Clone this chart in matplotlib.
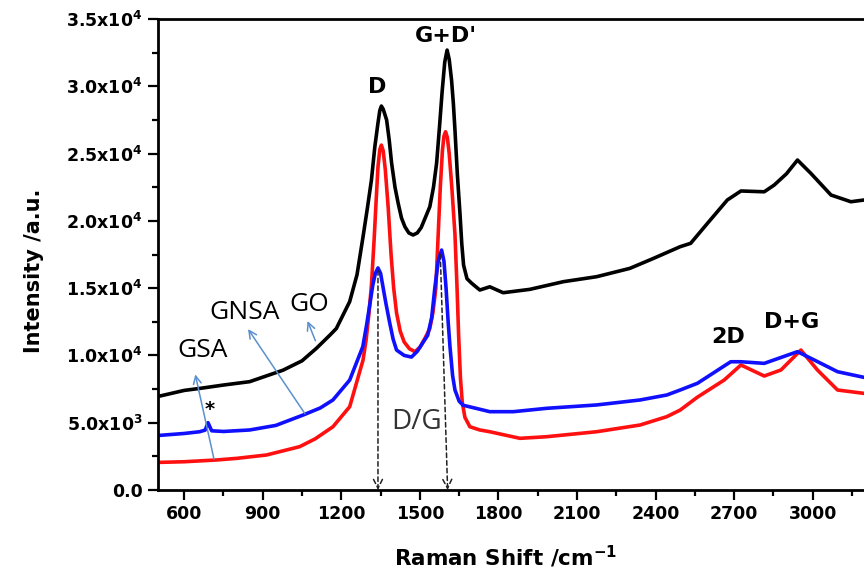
import matplotlib
matplotlib.use('Agg')
import matplotlib.pyplot as plt
from matplotlib.ticker import MultipleLocator, FixedLocator, FixedFormatter

plt.rcParams['font.family'] = 'DejaVu Sans'
plt.rcParams['mathtext.fontset'] = 'dejavusans'

# GO (black)
go_x = [500, 600, 660, 750, 850, 977, 1050, 1105, 1156, 1181, 1232, 1260, 1283, 1300, 1315, 1328,
        1340, 1347, 1353, 1360, 1373, 1383, 1392, 1405, 1417, 1430, 1443, 1458, 1474, 1490, 1505,
        1520, 1538, 1552, 1564, 1575, 1585, 1595, 1604, 1612, 1621, 1628, 1634, 1643, 1653, 1660,
        1667, 1680, 1698, 1729, 1767, 1818, 1920, 2048, 2175, 2302, 2392, 2494, 2534, 2598, 2674,
        2726, 2815, 2853, 2900, 2942, 2993, 3070, 3146, 3196]
go_y = [6950, 7400, 7550, 7800, 8050, 8900, 9600, 10530, 11500, 12000, 14000, 16000, 18820, 21000, 23030, 25500,
        27270, 28200, 28530, 28300, 27500, 26000, 24300, 22500, 21320, 20200, 19560, 19100, 18950, 19100, 19500,
        20200, 21050, 22500, 24300, 27000, 29600, 31800, 32690, 32000, 30460, 28700, 26750, 23500, 20580, 18300,
        16700, 15700, 15360, 14860, 15100, 14660, 14910, 15480, 15850, 16470, 17210, 18080, 18330, 19810, 21550,
        22220, 22160, 22660, 23500, 24520, 23530, 21920, 21420, 21550]

# GNSA (blue)
gnsa_x = [500, 600, 659, 680, 691, 705, 750, 850, 950, 1054, 1120, 1168, 1232, 1282, 1296, 1309,
          1320, 1330, 1340, 1350, 1360, 1370, 1385, 1398, 1411, 1440, 1468, 1490, 1510, 1530, 1545,
          1557, 1570, 1583, 1592, 1600, 1608, 1615, 1625, 1634, 1650, 1665, 1767, 1857, 1984, 2175,
          2341, 2443, 2494, 2560, 2687, 2726, 2815, 2942, 3006, 3095, 3196]
gnsa_y = [4050, 4200, 4330, 4450, 5000, 4400, 4350, 4460, 4800, 5570, 6100, 6690, 8170, 10650, 12200, 13800,
          15200, 16100, 16500, 16100, 15000, 13900, 12400, 11200, 10400, 10000, 9880, 10300, 10900, 11500, 12800,
          15000, 17000, 17830, 17000, 15000, 12500, 10650, 8500, 7430, 6600, 6300, 5820, 5820, 6070, 6320,
          6690, 7060, 7430, 7930, 9530, 9530, 9410, 10280, 9660, 8790, 8370]

# GSA (red)
gsa_x = [500, 600, 723, 800, 914, 1041, 1100, 1168, 1232, 1283, 1295, 1305, 1315, 1325, 1333, 1340,
         1347, 1353, 1360, 1368, 1379, 1390, 1400, 1411, 1425, 1440, 1460, 1481, 1500, 1520, 1538,
         1550, 1561, 1570, 1578, 1586, 1592, 1598, 1605, 1612, 1622, 1634, 1642, 1648, 1655, 1662,
         1672, 1691, 1729, 1767, 1882, 1984, 2175, 2341, 2443, 2494, 2560, 2662, 2726, 2815, 2879,
         2955, 3018, 3095, 3196]
gsa_y = [2050, 2100, 2230, 2350, 2600, 3220, 3800, 4700, 6190, 9660, 11200, 13000, 15200, 18500, 21500, 24000,
         25300, 25630, 25200, 23800, 21000, 17500, 15000, 13150, 11800, 11000, 10500, 10280, 10600, 11300, 12000,
         13200, 15000, 19000, 22500, 25200, 26300, 26620, 26200, 25000, 22500, 19000, 15000, 11500, 8300, 6500,
         5400, 4700, 4460, 4330, 3840, 3960, 4330, 4830, 5450, 5940, 6900, 8170, 9290, 8470, 8920,
         10400, 8920, 7430, 7180]

y_ticks = [0, 5000, 10000, 15000, 20000, 25000, 30000, 35000]
y_tick_labels = ['0.0', r'$\mathbf{5.0x10^3}$', r'$\mathbf{1.0x10^4}$', r'$\mathbf{1.5x10^4}$',
                 r'$\mathbf{2.0x10^4}$', r'$\mathbf{2.5x10^4}$', r'$\mathbf{3.0x10^4}$',
                 r'$\mathbf{3.5x10^4}$']
x_ticks = [600, 900, 1200, 1500, 1800, 2100, 2400, 2700, 3000]

fig = plt.figure(figsize=(8.64, 5.81), dpi=100)
ax = fig.add_axes([158 / 864, 91 / 581, 706 / 864, 471 / 581])

ax.plot(go_x, go_y, color='black', lw=2.6)
ax.plot(gsa_x, gsa_y, color='#ff1010', lw=2.6)
ax.plot(gnsa_x, gnsa_y, color='#1010ff', lw=2.6)

ax.set_xlim(500, 3196)
ax.set_ylim(0, 35000)

ax.xaxis.set_major_locator(FixedLocator(x_ticks))
ax.xaxis.set_minor_locator(MultipleLocator(150))
ax.yaxis.set_major_locator(FixedLocator(y_ticks))
ax.yaxis.set_major_formatter(FixedFormatter(y_tick_labels))
ax.yaxis.set_minor_locator(MultipleLocator(2500))

ax.tick_params(which='major', direction='out', length=7, width=1.6, labelsize=12.5, pad=4)
ax.tick_params(which='minor', direction='out', length=4, width=1.6)
for lab in ax.get_xticklabels() + ax.get_yticklabels():
    lab.set_fontweight('bold')
ax.tick_params(right=False, top=False)
ax.spines['right'].set_visible(False)
for s in ['left', 'bottom', 'top']:
    ax.spines[s].set_linewidth(2)

ax.set_xlabel(r'Raman Shift /cm$^{\mathbf{-1}}$', fontsize=15.5, fontweight='bold')
ax.xaxis.set_label_coords(0.493, -0.115)
ax.set_ylabel('Intensity /a.u.', fontsize=15, fontweight='bold')
ax.yaxis.set_label_coords(-0.162, 0.465)

# peak labels
ax.text(1336, 29950, 'D', fontsize=16, fontweight='bold', ha='center', va='center')
ax.text(1600, 33730, "G+D'", fontsize=16, fontweight='bold', ha='center', va='center')
ax.text(2678, 11370, '2D', fontsize=16, fontweight='bold', ha='center', va='center')
ax.text(2921, 12500, 'D+G', fontsize=16, fontweight='bold', ha='center', va='center')
ax.text(698, 6000, '*', fontsize=14, fontweight='bold', ha='center', va='center')

# sample labels with arrows
arrow_c = '#5b8fd0'
ax.text(670, 10350, 'GSA', fontsize=19, ha='center', va='center', family='Open Sans')
ax.text(832, 13170, 'GNSA', fontsize=19, ha='center', va='center', family='Open Sans')
ax.text(1077, 13750, 'GO', fontsize=19, ha='center', va='center', family='Open Sans')
ax.annotate('', xy=(640, 8790), xytext=(716, 2100),
            arrowprops=dict(arrowstyle='->', color=arrow_c, lw=1.1, mutation_scale=14))
ax.annotate('', xy=(838, 12130), xytext=(1067, 5500),
            arrowprops=dict(arrowstyle='->', color=arrow_c, lw=1.1, mutation_scale=14))
ax.annotate('', xy=(1067, 12750), xytext=(1105, 10900),
            arrowprops=dict(arrowstyle='->', color=arrow_c, lw=1.1, mutation_scale=14))

# D/G dashed arrows
ax.annotate('', xy=(1340, 0), xytext=(1340, 16300),
            arrowprops=dict(arrowstyle='->', color='#222222', lw=1.1, ls=(0, (3, 2)),
                            mutation_scale=16, shrinkA=0, shrinkB=0))
ax.annotate('', xy=(1606, 0), xytext=(1578, 17500),
            arrowprops=dict(arrowstyle='->', color='#222222', lw=1.1, ls=(0, (3, 2)),
                            mutation_scale=16, shrinkA=0, shrinkB=0))
ax.text(1487, 5080, 'D/G', fontsize=20, color='#333333', ha='center', va='center', family='Open Sans')

fig.savefig('out.png', dpi=100)
